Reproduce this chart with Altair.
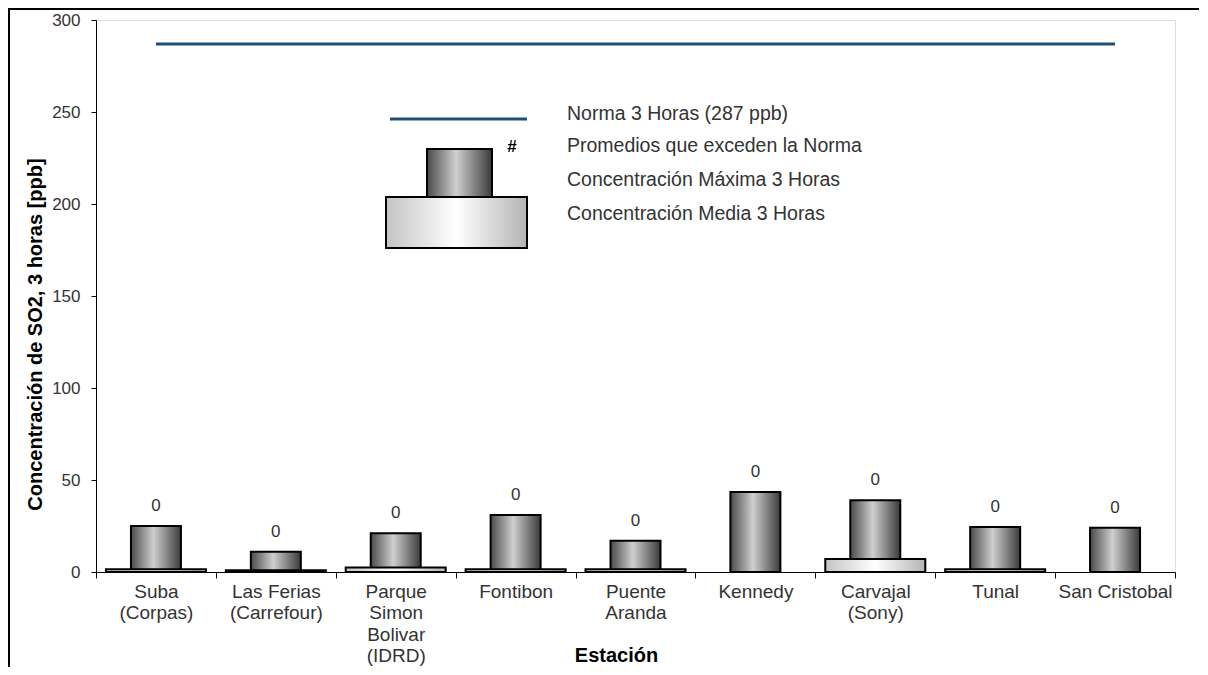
import altair as alt
import pandas as pd

# ---- data ----
stations = ["Suba|(Corpas)", "Las Ferias|(Carrefour)", "Parque|Simon|Bolivar|(IDRD)",
            "Fontibon", "Puente|Aranda", "Kennedy", "Carvajal|(Sony)", "Tunal", "San Cristobal"]
max_3h = [25, 11, 21, 31, 17, 43.5, 39, 24.5, 24]
mean_3h = [1.5, 0.9, 2.5, 1.5, 1.5, None, 7, 1.5, None]
exceed = [0, 0, 0, 0, 0, 0, 0, 0, 0]
norma = [287] * len(stations)

legend_texts = ["Norma 3 Horas (287 ppb)", "Promedios que exceden la Norma",
                "Concentración Máxima 3 Horas", "Concentración Media 3 Horas"]

df = pd.DataFrame({"station": stations, "max": max_3h, "mean": mean_3h,
                   "exceed": exceed, "norma": norma})

FONT = "Liberation Sans"
W, H = 1079, 552
PAD = {"left": 88, "top": 12, "right": 24, "bottom": 95}

x_enc = alt.X("station:N", sort=stations, title="Estación",
              scale=alt.Scale(paddingInner=0, paddingOuter=0),
              axis=alt.Axis(labelExpr="split(datum.label, '|')", labelAngle=0,
                            labelFontSize=19, labelColor="#333", labelFont=FONT,
                            labelLineHeight=21.5, labelPadding=4,
                            tickBand="extent", tickSize=6, tickColor="black",
                            domainColor="black", domainWidth=1, tickWidth=1,
                            titleFont=FONT, titleFontSize=20, titleFontWeight="bold",
                            titleColor="black", titleX=520, titleY=83,
                            titleBaseline="middle", titleAnchor="start", titleAlign="center"))

y_scale = alt.Scale(domain=[0, 300], nice=False, zero=True)
y_axis = alt.Axis(values=[0, 50, 100, 150, 200, 250, 300], grid=False,
                  labelFontSize=17, labelColor="#333", labelFont=FONT, labelPadding=11,
                  tickSize=5, tickColor="black", domainColor="black",
                  titleFont=FONT, titleFontSize=20, titleFontWeight="bold",
                  titleColor="black", titleX=-61, titleY=314, titleAngle=270,
                  titleBaseline="middle", titleAlign="center", titleAnchor="start")

dark_grad = alt.LinearGradient(gradient="linear", x1=0, x2=1, y1=0, y2=0, stops=[
    alt.GradientStop(color="#4a4a4a", offset=0),
    alt.GradientStop(color="#cfcfcf", offset=0.45),
    alt.GradientStop(color="#3a3a3a", offset=1)])
light_grad = alt.LinearGradient(gradient="linear", x1=0, x2=1, y1=0, y2=0, stops=[
    alt.GradientStop(color="#c4c4c4", offset=0),
    alt.GradientStop(color="#ffffff", offset=0.5),
    alt.GradientStop(color="#b4b4b4", offset=1)])

base = alt.Chart(df)

max_bars = base.mark_bar(fill=dark_grad, stroke="black", strokeWidth=2, width=50).encode(
    x=x_enc,
    y=alt.Y("max:Q", scale=y_scale, axis=y_axis,
            title="Concentración de SO2, 3 horas [ppb]"))

mean_bars = base.mark_bar(fill=light_grad, stroke="black", strokeWidth=2, width=100).encode(
    x=alt.X("station:N", sort=stations),
    y=alt.Y("mean:Q"))

labels = base.mark_text(font=FONT, fontSize=17, color="#333", baseline="alphabetic",
                        dy=-15).encode(
    x=alt.X("station:N", sort=stations),
    y=alt.Y("max:Q"),
    text=alt.Text("exceed:Q"))

norma_line = base.mark_line(color="#1F4E79", strokeWidth=3).encode(
    x=alt.X("station:N", sort=stations),
    y=alt.Y("norma:Q"))

one = alt.Data(values=[{"k": 1}])

leg_line = alt.Chart(one).mark_rule(color="#1F4E79", strokeWidth=3).encode(
    x=alt.value(294), x2=alt.value(431), y=alt.value(99))
leg_dark = alt.Chart(one).mark_rect(fill=dark_grad, stroke="black", strokeWidth=2).encode(
    x=alt.value(331), x2=alt.value(396), y=alt.value(129), y2=alt.value(177))
leg_light = alt.Chart(one).mark_rect(fill=light_grad, stroke="black", strokeWidth=2).encode(
    x=alt.value(290), x2=alt.value(431), y=alt.value(177), y2=alt.value(228))
leg_hash = alt.Chart(one).mark_text(text="#", font=FONT, fontSize=17, fontWeight="bold",
                                    color="black").encode(
    x=alt.value(416), y=alt.value(127))

leg_text_layers = []
for txt, yy in zip(legend_texts, [94, 126, 160, 194]):
    leg_text_layers.append(
        alt.Chart(one).mark_text(text=txt, font=FONT, fontSize=19.5, color="#333",
                                 align="left", baseline="middle").encode(
            x=alt.value(471), y=alt.value(yy)))

# page frame: an unfilled outline whose right and bottom sides fall off the canvas,
# leaving only the left and top edges visible, as in the reference
frame = alt.Chart(one).mark_rect(fill="transparent", stroke="black", strokeWidth=2).encode(
    x=alt.value(-PAD["left"] + 1), x2=alt.value(W + PAD["right"] + 40),
    y=alt.value(-PAD["top"] + 1), y2=alt.value(H + PAD["bottom"] + 40))

chart = alt.layer(max_bars, mean_bars, labels, norma_line,
                  leg_line, leg_dark, leg_light, leg_hash, *leg_text_layers,
                  frame).properties(
    width=W, height=H,
    autosize=alt.AutoSizeParams(type="none"),
    padding=PAD,
).configure_view(stroke=None).configure(background="white")

chart.save("out.html", embed_options={"renderer": "svg", "actions": False})
